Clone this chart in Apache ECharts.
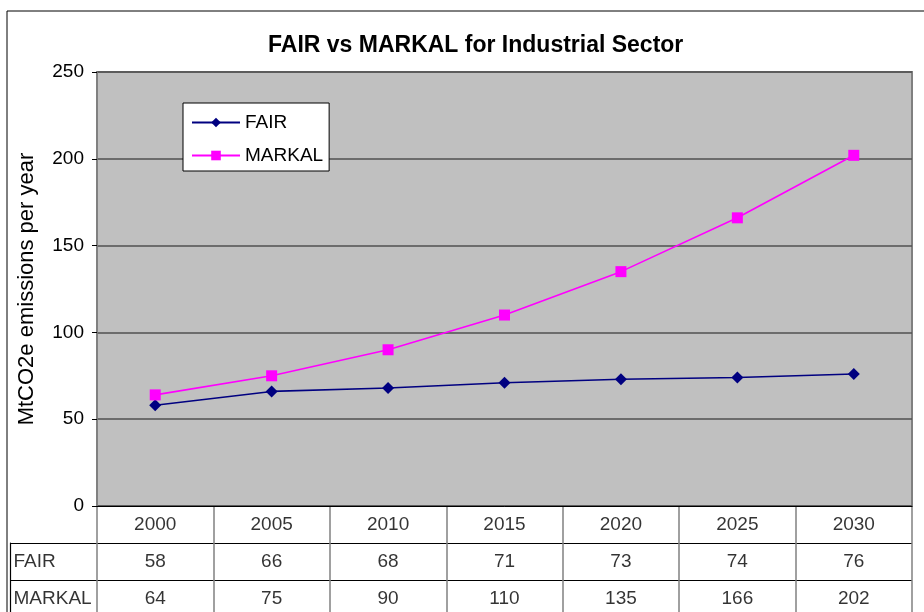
<!DOCTYPE html>
<html>
<head>
<meta charset="utf-8">
<script src="https://cdn.jsdelivr.net/npm/echarts@6/dist/echarts.min.js"></script>
<style>
html,body{margin:0;padding:0;background:#fff;}
#main{width:924px;height:612px;}
</style>
</head>
<body>
<div id="main"></div>
<script>
	'use strict';
	var years = ['2000', '2005', '2010', '2015', '2020', '2025', '2030'];
	var fair = [58, 66, 68, 71, 73, 74, 76];
	var markal = [64, 75, 90, 110, 135, 166, 202];
	var rowNames = ['FAIR', 'MARKAL'];
	var yTicks = [0, 50, 100, 150, 200, 250];

	var font = 'Arial, "Liberation Sans", sans-serif';
	var rowH = 37; // table row height in px

	// cells of the data table under the plot (row index + 0.5 = row middle)
	var cells = [];
	years.forEach(function(y, i){
		cells.push([i, 0.5, y]);
		cells.push([i, 1.5, String(fair[i])]);
		cells.push([i, 2.5, String(markal[i])]);
	});
	var heads = rowNames.map(function(n, r){ return [0, r + 0.5, n]; });

	var chart = echarts.init(document.getElementById('main'));
	chart.setOption({
		animation: false,
		backgroundColor: '#fff',
		textStyle: {fontFamily: font},
		title: {
			text: 'FAIR vs MARKAL for Industrial Sector',
			left: 263, top: 29,
			textStyle: {fontFamily: font, fontSize: 23, fontWeight: 'bold', color: '#000'}
		},
		legend: {
			orient: 'vertical',
			left: 183, top: 103,
			backgroundColor: '#fff',
			borderColor: '#000', borderWidth: 1,
			padding: [10, 6, 6, 8],
			itemWidth: 48, itemHeight: 12, itemGap: 14,
			textStyle: {fontFamily: font, fontSize: 19, color: '#000'},
			data: ['FAIR', 'MARKAL']
		},
		graphic: [{
			type: 'rect',
			shape: {x: 7, y: 11, width: 940, height: 640},
			style: {fill: null, stroke: '#000', lineWidth: 1},
			silent: true, z: -1
		}],
		grid: [
			{left: 97, right: 12, top: 72, height: 434, show: true,
				backgroundColor: '#C0C0C0', borderColor: '#808080', borderWidth: 2},
			{left: 97, right: 12, top: 506, bottom: 0},
			{left: 10, width: 87, top: 543, bottom: 0}
		],
		xAxis: [
			{type: 'category', gridIndex: 0, data: years, boundaryGap: true,
				axisLine: {show: true, lineStyle: {color: '#000', width: 1}},
				axisTick: {show: false}, axisLabel: {show: false}, splitLine: {show: false}},
			{type: 'category', gridIndex: 1, data: years, boundaryGap: true,
				axisLine: {show: false}, axisTick: {show: false}, axisLabel: {show: false},
				splitLine: {show: true, interval: 0, lineStyle: {color: '#808080', width: 1.5}}},
			{type: 'value', gridIndex: 2, min: 0, max: 1, show: false}
		],
		yAxis: [
			{type: 'value', gridIndex: 0, min: 0, max: 250, interval: 50,
				name: 'MtCO2e emissions per year', nameLocation: 'middle', nameGap: 59,
				nameTextStyle: {fontFamily: font, fontSize: 22, color: '#000'},
				axisLine: {show: true, lineStyle: {color: '#808080', width: 1.5}},
				axisTick: {show: true, length: 5, lineStyle: {color: '#000'}},
				axisLabel: {fontFamily: font, fontSize: 19, color: '#000', margin: 13,
					formatter: function(v){ return yTicks.indexOf(v) >= 0 ? String(v) : ''; }},
				splitLine: {show: true, lineStyle: {color: '#505050', width: 1.5}}},
			{type: 'value', gridIndex: 1, min: 0, max: 106 / rowH, interval: 1, inverse: true,
				axisLine: {show: false}, axisTick: {show: false}, axisLabel: {show: false},
				splitLine: {show: true, showMinLine: false, showMaxLine: false, lineStyle: {color: '#000', width: 1.2}}},
			{type: 'value', gridIndex: 2, min: 0, max: 69 / rowH, interval: 1, inverse: true,
				axisLine: {show: true, lineStyle: {color: '#000', width: 1.2}},
				axisTick: {show: false}, axisLabel: {show: false},
				splitLine: {show: true, showMaxLine: false, lineStyle: {color: '#000', width: 1.2}}}
		],
		series: [
			{name: 'FAIR', type: 'line', xAxisIndex: 0, yAxisIndex: 0, data: fair,
				symbol: 'diamond', symbolSize: 12,
				lineStyle: {color: '#000080', width: 1.6},
				itemStyle: {color: '#000080'}},
			{name: 'MARKAL', type: 'line', xAxisIndex: 0, yAxisIndex: 0, data: markal,
				symbol: 'rect', symbolSize: 11,
				lineStyle: {color: '#FF00FF', width: 1.6},
				itemStyle: {color: '#FF00FF'}},
			{name: 'table', type: 'scatter', xAxisIndex: 1, yAxisIndex: 1, data: cells,
				symbolSize: 1, itemStyle: {color: 'rgba(0,0,0,0)'}, silent: true,
				label: {show: true, position: 'inside', fontFamily: font, fontSize: 19, color: '#000',
					formatter: function(p){ return p.data[2]; }}},
			{name: 'rows', type: 'scatter', xAxisIndex: 2, yAxisIndex: 2, data: heads,
				symbolSize: 1, itemStyle: {color: 'rgba(0,0,0,0)'}, silent: true,
				label: {show: true, position: 'right', distance: 3, fontFamily: font, fontSize: 19, color: '#000',
					formatter: function(p){ return p.data[2]; }}}
		]
	});
</script>
</body>
</html>
